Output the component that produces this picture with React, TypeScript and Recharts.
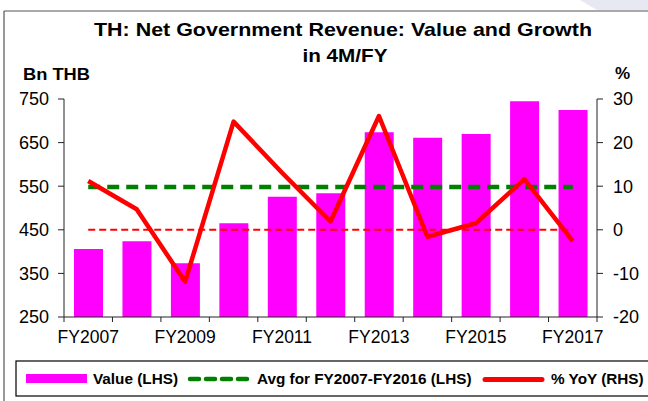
import { ComposedChart, Bar, Line, XAxis, YAxis } from 'recharts';

// TH net government revenue, 4M of each fiscal year
const years = ['FY2007', 'FY2008', 'FY2009', 'FY2010', 'FY2011', 'FY2012', 'FY2013', 'FY2014', 'FY2015', 'FY2016', 'FY2017'];
const valueLHS = [406, 424, 373, 465, 526, 534, 674, 661, 670, 745, 725];
const avgLHS = [548, 548, 548, 548, 548, 548, 548, 548, 548, 548, 548];
const yoyRHS = [11.2, 4.7, -11.9, 24.8, 13.1, 1.9, 26.1, -1.6, 1.5, 11.6, -2.6];
const zeroRHS = [0, 0, 0, 0, 0, 0, 0, 0, 0, 0, 0];
const leftTicks = [250, 350, 450, 550, 650, 750];
const rightTicks = [-20, -10, 0, 10, 20, 30];

const data = years.map((y, i) => ({
  year: y,
  value: valueLHS[i],
  avg: avgLHS[i],
  yoy: yoyRHS[i],
  zero: zeroRHS[i],
}));

const W = 648;
const H = 401;
const FONT = '"Liberation Sans", Arial, sans-serif';
const PLOT_LEFT = 64;
const PLOT_RIGHT = 597;
const BAND = (PLOT_RIGHT - PLOT_LEFT) / years.length;

/** x tick: label every other year, tick marks on category boundaries */
function YearTick(props: any) {
  const { x, y, index, payload } = props;
  const half = BAND / 2;
  return (
    <g>
      <line x1={x - half} y1={y} x2={x - half} y2={y + 5} stroke="#222" />
      {index === years.length - 1 && (
        <line x1={x + half} y1={y} x2={x + half} y2={y + 5} stroke="#222" />
      )}
      {index % 2 === 0 && (
        <text x={x} y={y + 26} textAnchor="middle" fontSize={17.5} fontFamily={FONT} fill="#000">
          {payload.value}
        </text>
      )}
    </g>
  );
}

export default function App() {
  const tickStyle = { fontSize: 18, fontFamily: FONT, fill: '#000' };
  return (
    <div style={{ position: 'relative', width: W, height: H, overflow: 'hidden', background: '#fff' }}>
      <style>{'body{margin:0}'}</style>
      <ComposedChart
        width={W}
        height={H}
        data={data}
        margin={{ top: 99, right: 11, bottom: 54, left: 14 }}
      >
        <XAxis
          dataKey="year"
          xAxisId={0}
          height={30}
          interval={0}
          tickSize={0}
          tickMargin={0}
          tickLine={false}
          axisLine={{ stroke: '#222' }}
          tick={<YearTick />}
        />
        <YAxis
          yAxisId="left"
          orientation="left"
          width={50}
          domain={[250, 750]}
          ticks={leftTicks}
          allowDataOverflow
          tickSize={6}
          tickMargin={9}
          axisLine={{ stroke: '#222' }}
          tickLine={{ stroke: '#222' }}
          tick={tickStyle}
        />
        <YAxis
          yAxisId="right"
          orientation="right"
          width={40}
          domain={[-20, 30]}
          ticks={rightTicks}
          allowDataOverflow
          tickSize={6}
          tickMargin={10}
          axisLine={{ stroke: '#222' }}
          tickLine={{ stroke: '#222' }}
          tick={tickStyle}
        />
        <Bar yAxisId="left" dataKey="value" fill="#FF00FF" barSize={29} isAnimationActive={false} />
        <Line
          yAxisId="right"
          dataKey="zero"
          stroke="#FF0000"
          strokeWidth={2}
          strokeDasharray="7 4"
          dot={false}
          activeDot={false}
          isAnimationActive={false}
        />
        <Line
          yAxisId="left"
          dataKey="avg"
          stroke="#008000"
          strokeWidth={4.5}
          strokeDasharray="12 7"
          dot={false}
          activeDot={false}
          isAnimationActive={false}
        />
        <Line
          yAxisId="right"
          dataKey="yoy"
          type="linear"
          stroke="#FF0000"
          strokeWidth={4.5}
          strokeLinejoin="round"
          dot={false}
          activeDot={false}
          isAnimationActive={false}
        />
      </ComposedChart>

      {/* frame, titles and legend drawn over the chart */}
      <svg
        width={W}
        height={H}
        style={{ position: 'absolute', left: 0, top: 0, pointerEvents: 'none' }}
        fontFamily={FONT}
      >
        <polygon points="580,0 648,0 648,10 597,10" fill="#e7e8f2" />
        <line x1={4} y1={11} x2={W} y2={11} stroke="#555" strokeWidth={1.2} />
        <line x1={4} y1={11} x2={4} y2={H} stroke="#555" strokeWidth={1.2} />

        <text x={343} y={36} textAnchor="middle" fontSize={19} fontWeight="bold" textLength={498} lengthAdjust="spacingAndGlyphs">
          TH: Net Government Revenue: Value and Growth
        </text>
        <text x={345} y={61.5} textAnchor="middle" fontSize={19} fontWeight="bold" textLength={85} lengthAdjust="spacingAndGlyphs">
          in 4M/FY
        </text>
        <text x={23} y={80} fontSize={17} fontWeight="bold" textLength={67} lengthAdjust="spacingAndGlyphs">
          Bn THB
        </text>
        <text x={615} y={79} fontSize={17} fontWeight="bold">%</text>

        <rect x={16} y={361} width={640} height={35} fill="none" stroke="#000" strokeWidth={1.2} />
        <rect x={26} y={374} width={61} height={9} fill="#FF00FF" />
        <text x={93} y={383.5} fontSize={15.3} fontWeight="bold">Value (LHS)</text>
        <line x1={190} y1={379} x2={250} y2={379} stroke="#008000" strokeWidth={4.5} strokeDasharray="9 7" strokeLinecap="round" />
        <text x={257} y={383.5} fontSize={15.3} fontWeight="bold">Avg for FY2007-FY2016 (LHS)</text>
        <line x1={485} y1={379.5} x2={542} y2={379.5} stroke="#FF0000" strokeWidth={5} strokeLinecap="round" />
        <text x={551} y={383.5} fontSize={15.3} fontWeight="bold">% YoY (RHS)</text>
      </svg>
    </div>
  );
}
